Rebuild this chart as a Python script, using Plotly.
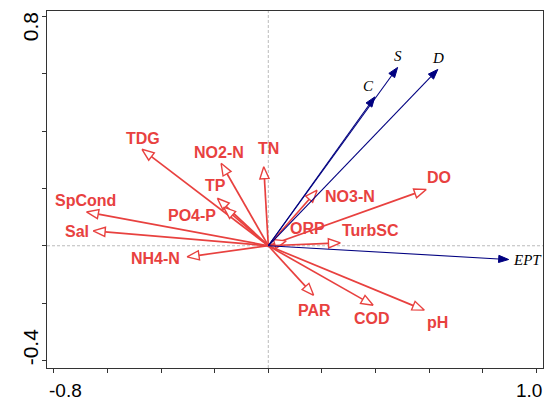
import math
import plotly.graph_objects as go

# ---- data ----
env_names = ["TDG", "NO2-N", "TN", "TP", "PO4-P", "SpCond", "Sal", "NH4-N",
             "DO", "NO3-N", "ORP", "TurbSC", "PAR", "COD", "pH"]
env_x = [-0.471, -0.176, -0.017, -0.190, -0.167, -0.678, -0.653, -0.303,
         0.589, 0.182, 0.067, 0.269, 0.169, 0.391, 0.582]
env_y = [0.337, 0.288, 0.276, 0.166, 0.135, 0.118, 0.052, -0.039,
         0.197, 0.194, 0.017, 0.010, -0.173, -0.208, -0.225]
# label positions
env_lx = [-0.466, -0.182, 0.000, -0.197, -0.283, -0.682, -0.715, -0.421,
          0.638, 0.306, 0.146, 0.381, 0.172, 0.388, 0.630]
env_ly = [0.376, 0.327, 0.341, 0.212, 0.107, 0.159, 0.051, -0.043,
          0.240, 0.173, 0.062, 0.055, -0.225, -0.253, -0.267]

sp_names = ["C", "S", "D", "EPT"]
sp_x = [0.397, 0.482, 0.632, 0.896]
sp_y = [0.520, 0.623, 0.616, -0.048]
sp_lx = [0.373, 0.485, 0.632, 0.966]
sp_ly = [0.558, 0.664, 0.656, -0.050]

x_ticks = [-0.8, -0.6, -0.4, -0.2, 0.0, 0.2, 0.4, 0.6, 0.8, 1.0]
x_ticktext = ["-0.8", "", "", "", "", "", "", "", "", "1.0"]
y_ticks = [-0.4, -0.2, 0.0, 0.2, 0.4, 0.6, 0.8]
y_ticktext = ["-0.4", "", "", "", "", "", "0.8"]

X_RANGE = [-0.825, 1.024]
Y_RANGE = [-0.427, 0.820]
W, H = 544, 401
ML, MR, MT, MB = 47, 1, 11, 33

RED = "#e8413f"
NAVY = "#000080"

SX = (W - ML - MR) / (X_RANGE[1] - X_RANGE[0])
SY = (H - MT - MB) / (Y_RANGE[1] - Y_RANGE[0])


def head(x, y, L, Wd):
    px, py = x * SX, y * SY
    n = math.hypot(px, py)
    ux, uy = px / n, py / n
    bx, by = px - L * ux, py - L * uy
    lx, ly = bx - Wd * uy, by + Wd * ux
    rx, ry = bx + Wd * uy, by - Wd * ux
    tri_x = [px / SX, lx / SX, rx / SX, px / SX]
    tri_y = [py / SY, ly / SY, ry / SY, py / SY]
    return (bx / SX, by / SY), tri_x, tri_y


fig = go.Figure()

# zero lines
fig.add_shape(type="line", x0=0, x1=0, y0=Y_RANGE[0], y1=Y_RANGE[1],
              line=dict(color="#aaaaaa", width=0.8, dash="3px,2px"), layer="below")
fig.add_shape(type="line", x0=X_RANGE[0], x1=X_RANGE[1], y0=0, y1=0,
              line=dict(color="#aaaaaa", width=0.8, dash="3px,2px"), layer="below")

# environment arrows (red, open heads)
for name, x, y in zip(env_names, env_x, env_y):
    (bx, by), tx, ty = head(x, y, 12, 4.6)
    fig.add_trace(go.Scatter(x=[0, bx], y=[0, by], mode="lines",
                             line=dict(color=RED, width=1.7), hoverinfo="skip",
                             showlegend=False))
    fig.add_trace(go.Scatter(x=tx, y=ty, mode="lines", fill="toself",
                             fillcolor="white", line=dict(color=RED, width=1.4),
                             hoverinfo="skip", showlegend=False))

# species arrows (navy, filled heads)
for name, x, y in zip(sp_names, sp_x, sp_y):
    (bx, by), tx, ty = head(x, y, 10, 3.6)
    fig.add_trace(go.Scatter(x=[0, bx], y=[0, by], mode="lines",
                             line=dict(color=NAVY, width=1.1), hoverinfo="skip",
                             showlegend=False))
    fig.add_trace(go.Scatter(x=tx, y=ty, mode="lines", fill="toself",
                             fillcolor=NAVY, line=dict(color=NAVY, width=1),
                             hoverinfo="skip", showlegend=False))

for name, x, y in zip(env_names, env_lx, env_ly):
    fig.add_annotation(x=x, y=y, text="<b>%s</b>" % name, showarrow=False,
                       font=dict(family="Liberation Sans, Arial", size=16, color=RED),
                       xanchor="center", yanchor="middle")
for name, x, y in zip(sp_names, sp_lx, sp_ly):
    fig.add_annotation(x=x, y=y, text="<i>%s</i>" % name, showarrow=False,
                       font=dict(family="Liberation Serif, Times New Roman", size=15, color="black"),
                       xanchor="center", yanchor="middle")

# edge tick labels (drawn inside the frame ends, as in the reference)
XTICKFONT = dict(family="Liberation Sans, Arial", size=19, color="black")
YTICKFONT = dict(family="Liberation Sans, Arial", size=21, color="black")
fig.add_annotation(xref="paper", yref="paper", x=0, y=0, xshift=18, yshift=-22.5,
                   text=x_ticktext[0], showarrow=False, font=XTICKFONT, borderpad=0,
                   xanchor="center", yanchor="middle")
fig.add_annotation(xref="paper", yref="paper", x=1, y=0, xshift=-14.5, yshift=-22.5,
                   text=x_ticktext[-1], showarrow=False, font=XTICKFONT, borderpad=0,
                   xanchor="center", yanchor="middle")
fig.add_annotation(xref="paper", yref="paper", x=0, y=1, xshift=-17, yshift=-16.2,
                   text=y_ticktext[-1], showarrow=False, font=YTICKFONT, textangle=-90,
                   borderpad=0, xanchor="center", yanchor="middle")
fig.add_annotation(xref="paper", yref="paper", x=0, y=0, xshift=-17, yshift=20.7,
                   text=y_ticktext[0], showarrow=False, font=YTICKFONT, textangle=-90,
                   borderpad=0, xanchor="center", yanchor="middle")

axis_common = dict(showgrid=False, zeroline=False, showline=True, linecolor="#333333",
                   linewidth=1, mirror=True, ticks="outside", ticklen=4,
                   tickcolor="#333333", showticklabels=False, automargin=False)

fig.update_xaxes(range=X_RANGE, tickmode="array", tickvals=x_ticks, **axis_common)
fig.update_yaxes(range=Y_RANGE, tickmode="array", tickvals=y_ticks, **axis_common)

fig.update_layout(width=W, height=H, margin=dict(l=ML, r=MR, t=MT, b=MB, autoexpand=False),
                  plot_bgcolor="white", paper_bgcolor="white", showlegend=False)

fig.write_html("out.html")
